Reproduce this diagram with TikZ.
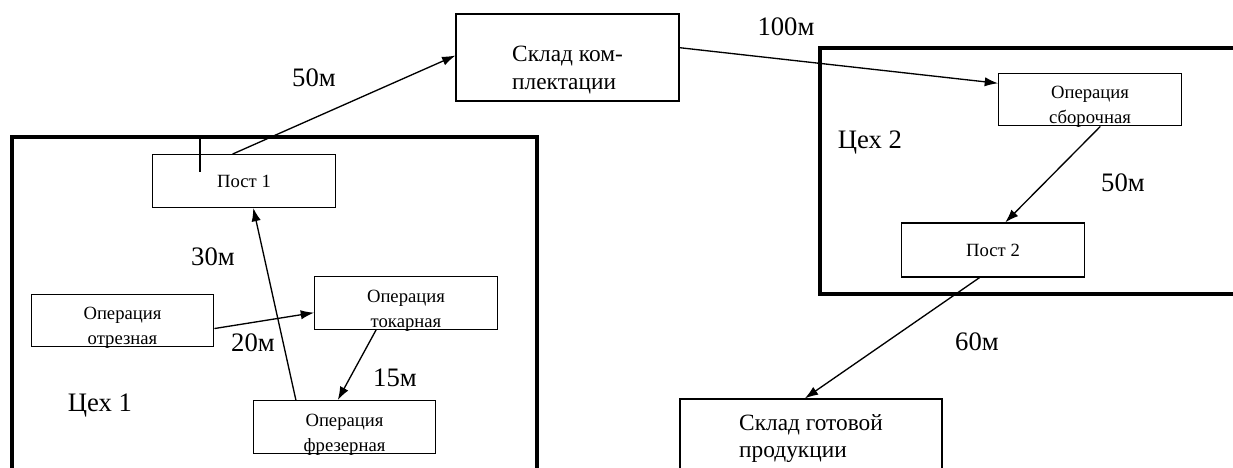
\documentclass[tikz,border=0pt]{standalone}
\usepackage{fontspec}
\setmainfont{Liberation Serif}
\usetikzlibrary{arrows.meta}
\newcommand{\optext}[2]{\raisebox{-5pt}[\height][\depth]{\begin{tabular}{@{}c@{}}#1\\#2\end{tabular}}}
\newcommand{\sktext}[3]{\raisebox{#1}[\height][\depth]{\begin{tabular}{@{}l@{}}#2\\#3\end{tabular}}}
\begin{document}
\begin{tikzpicture}[x=0.75pt,y=-0.75pt,
        box/.style = {draw, line width=0.9pt, inner sep=0pt, minimum width=137pt, minimum height=39.5pt, font=\fontsize{14}{18.75}\selectfont},
        sklad/.style = {box, font=\fontsize{17.5}{20.5}\selectfont},
        dist/.style = {inner sep=0pt, font=\fontsize{20}{24}\selectfont},
        ceh/.style = {draw, line width=3.2pt},
        >={Latex[length=10pt,width=7pt]}]
        \useasboundingbox (0,0) rectangle (1233,468);
        % цеха
        \draw[ceh] (12,137) rectangle (537,474);
        \draw[ceh] (820,48) rectangle (1236,294);
        \draw[line width=2.2pt] (200,137) -- (200,172);
        \node[dist] (ceh1) at (100,406) {Цех 1};
        \node[dist] (ceh2) at (870,143) {Цех 2};
        % узлы
        \node[box] (post1) at (244,181) {Пост 1};
        \node[box] (otrez) at (122.5,320.5) {\optext{Операция}{отрезная}};
        \node[box] (tokar) at (406,303) {\optext{Операция}{токарная}};
        \node[box] (frez) at (344.5,427) {\optext{Операция}{фрезерная}};
        \node[sklad, minimum width=167.25pt, minimum height=65.25pt] (sklad1) at (567.5,57.5) {\sktext{-9.5pt}{Склад ком-}{плектации}};
        \node[box] (sborka) at (1090,99.5) {\optext{Операция}{сборочная}};
        \node[box, minimum height=40.5pt] (post2) at (993,250) {Пост 2};
        \node[sklad, minimum width=196.5pt, minimum height=65.25pt] (sklad2) at (811,442.5) {\sktext{3pt}{Склад готовой}{продукции}};
        % расстояния
        \node[dist] (d1) at (314,78) {50м};
        \node[dist] (d2) at (786,27) {100м};
        \node[dist] (d3) at (213,257) {30м};
        \node[dist] (d4) at (253,343) {20м};
        \node[dist] (d5) at (395,378) {15м};
        \node[dist] (d6) at (1123,183) {50м};
        \node[dist] (d7) at (977,342) {60м};
        % маршрут
        \draw[->, line width=1pt] (otrez.-5) -- (tokar.186);
        \draw[->, line width=1pt] (tokar.222) -- (frez.104);
        \draw[->, line width=1pt] (frez.151) -- (post1.289);
        \draw[->, line width=1pt] (post1.113) -- (sklad1.179);
        \draw[->, line width=1pt] (sklad1.5) -- (sborka.170);
        \draw[->, line width=1pt] (sborka.291) -- (post2.66);
        \draw[->, line width=1pt] (post2.244) -- (sklad2.98);
\end{tikzpicture}
\end{document}
